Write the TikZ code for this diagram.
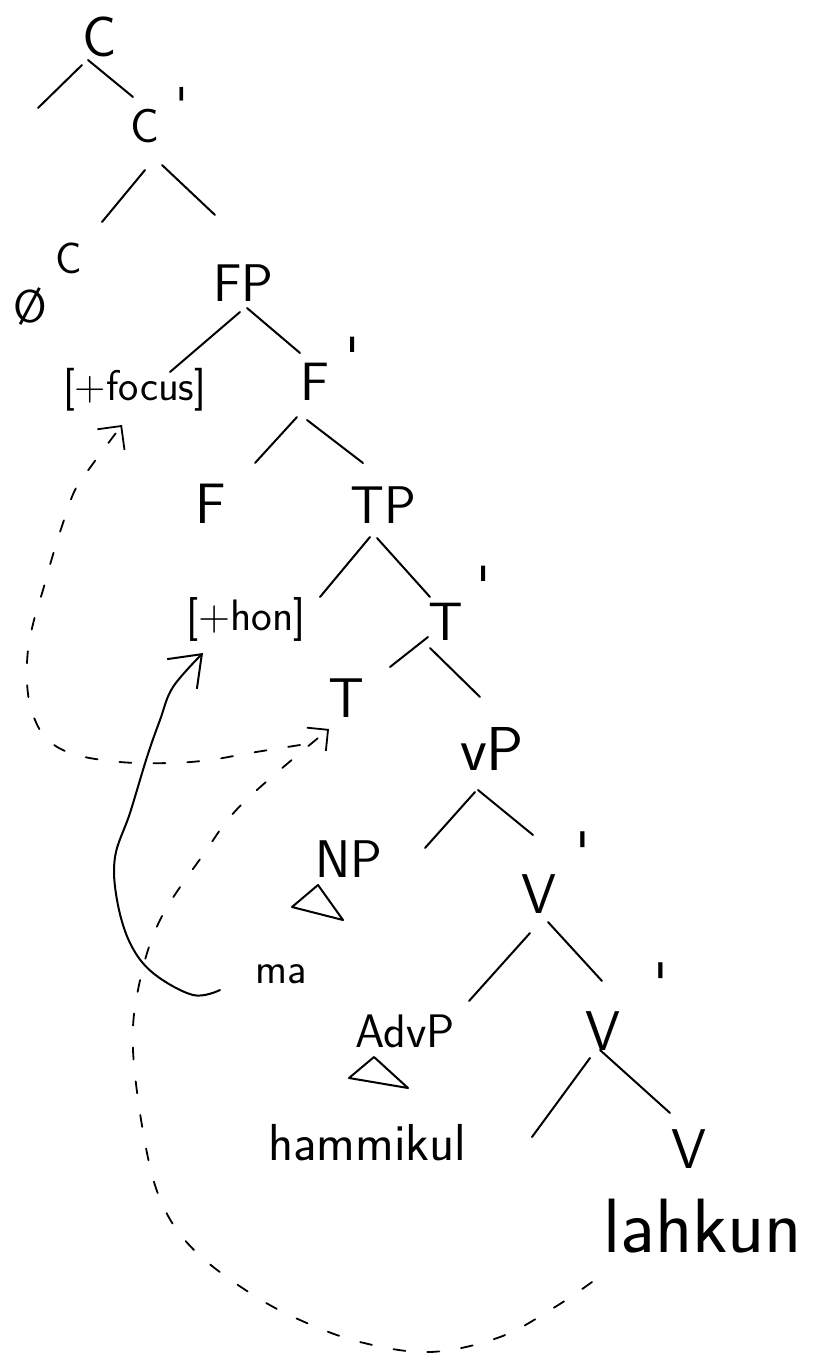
\documentclass[tikz,border=0pt]{standalone}
\usetikzlibrary{arrows.meta}
\newcommand\fsz[1]{\fontsize{#1}{#1}\selectfont}
\newcommand\pr[2]{\hspace{#1}\raisebox{#2}{\textquotesingle}}
\tikzset{
  lab/.style={anchor=base west, inner sep=0pt, font=\sffamily},
  br/.style={line width=2pt, line cap=round},
  hand/.style={line width=2pt, line cap=round},
  mv/.style={line width=1.8pt, dash pattern=on 12pt off 22pt, line cap=round},
}
\begin{document}
\begin{tikzpicture}[x=1pt,y=-1pt]
\fill[white] (0,0) rectangle (817,1364);
\useasboundingbox (0,0) rectangle (817,1364);

% labels
\node[lab, font=\sffamily\fsz{57}] (c0) at (82,57) {C};
\node[lab, font=\sffamily\fsz{48}] (c1) at (130,143) {C\pr{0.35em}{0.45em}};
\node[lab, font=\sffamily\fsz{44}] (ch) at (55,273) {C};
\node[lab, font=\sffamily\fsz{46}] (emp) at (13,322) {\O};
\node[lab, font=\sffamily\fsz{53}] (fp) at (213,301) {FP};
\node[lab, font=\sffamily\fsz{43}] (foc) at (63,400) {[+focus]};
\node[lab, font=\sffamily\fsz{54}] (f1) at (300,400) {F\pr{0.3em}{0.45em}};
\node[lab, font=\sffamily\fsz{57}] (fh) at (195,523) {F};
\node[lab, font=\sffamily\fsz{53}] (tp) at (350,523) {TP};
\node[lab, font=\sffamily\fsz{44}] (hon) at (186,630) {[+hon]};
\node[lab, font=\sffamily\fsz{54}] (t1) at (428,640) {T\pr{0.25em}{0.65em}};
\node[lab, font=\sffamily\fsz{56}] (th) at (328,717) {T};
\node[lab, font=\sffamily\fsz{62}] (vp) at (460,770) {vP};
\node[lab, font=\sffamily\fsz{53}] (np) at (315,877) {NP};
\node[lab, font=\sffamily\fsz{43}] (ma) at (255,983) {ma};
\node[lab, font=\sffamily\fsz{56}] (v1) at (521,913) {V\pr{0.35em}{0.75em}};
\node[lab, font=\sffamily\fsz{47}] (adv) at (355,1047) {AdvP};
\node[lab, font=\sffamily\fsz{56}] (v2) at (585,1050) {V\pr{0.6em}{0.85em}};
\node[lab, font=\sffamily\fsz{52}] (ham) at (268,1160) {hammikul};
\node[lab, font=\sffamily\fsz{56}] (vh) at (671,1168) {V};
\node[lab, font=\sffamily\fsz{77}] (lah) at (603,1252) {lahkun};

% free ends
\coordinate (cs) at (38,108);
\coordinate (vs) at (532,1137);

% branches
\draw[br] ([shift={(0,8)}]c0.base west) -- (cs);
\draw[br] ([shift={(6,3)}]c0.base west) -- ([shift={(3,-46)}]c1.base west);
\draw[br] ([shift={(15,27)}]c1.base west) -- ([shift={(47,-51)}]ch.base west);
\draw[br] ([shift={(32,22)}]c1.base west) -- ([shift={(2,-86)}]fp.base west);
\draw[br] ([shift={(27,11)}]fp.base west) -- ([shift={(107,-28)}]foc.base west);
\draw[br] ([shift={(34,7)}]fp.base west) -- ([shift={(0,-47)}]f1.base west);
\draw[br] ([shift={(-3,17)}]f1.base west) -- ([shift={(60,-60)}]fh.base west);
\draw[br] ([shift={(7,20)}]f1.base west) -- ([shift={(13,-60)}]tp.base west);
\draw[br] ([shift={(20,14)}]tp.base west) -- ([shift={(134,-33)}]hon.base west);
\draw[br] ([shift={(27,15)}]tp.base west) -- ([shift={(2,-43)}]t1.base west);
\draw[br] ([shift={(0,-3)}]t1.base west) -- ([shift={(62,-50)}]th.base west);
\draw[br] ([shift={(2,8)}]t1.base west) -- ([shift={(20,-73)}]vp.base west);
\draw[br] ([shift={(15,22)}]vp.base west) -- ([shift={(110,-29)}]np.base west);
\draw[br] ([shift={(18,20)}]vp.base west) -- ([shift={(12,-78)}]v1.base west);
\draw[br] ([shift={(9,20)}]v1.base west) -- ([shift={(114,-46)}]adv.base west);
\draw[br] ([shift={(27,9)}]v1.base west) -- ([shift={(17,-69)}]v2.base west);
\draw[br] ([shift={(5,8)}]v2.base west) -- (vs);
\draw[br] ([shift={(15,0)}]v2.base west) -- ([shift={(-1,-55)}]vh.base west);

% triangles
\draw[br, line join=round] ([shift={(3,8)}]np.base west) -- ++(-26,22) -- ++(51,13) -- cycle;
\draw[br, line join=round] ([shift={(19,10)}]adv.base west) -- ++(-25,21) -- ++(59,10) -- cycle;

% movement arrows
\coordinate (a1s) at ([shift={(-35,7)}]ma.base west);
\coordinate (a1e) at ([shift={(17,23)}]hon.base west);
\draw[hand, -{Straight Barb[length=28pt,width=42pt]}] plot[smooth, tension=0.6] coordinates {(a1s) (193,995) (153,973) (130,943) (117,900) (115,857) (130,813) (147,757) (160,720) (173,687) (a1e)};

\coordinate (a2s) at ([shift={(-11,30)}]lah.base west);
\coordinate (a2e) at ([shift={(1,12)}]th.base west);
\draw[mv, -{Straight Barb[length=15pt,width=30pt]}] plot[smooth, tension=0.6] coordinates {(a2s) (555,1307) (500,1337) (430,1352) (360,1342) (300,1320) (250,1293) (196,1252) (164,1208) (146,1148) (133,1050) (139,985) (160,920) (203,855) (243,803) (a2e)};

\coordinate (a3s) at ([shift={(-28,28)}]th.base west);
\coordinate (a3e) at ([shift={(59,25)}]foc.base west);
\draw[mv, -{Straight Barb[length=17pt,width=34pt]}] plot[smooth, tension=0.6] coordinates {(a3s) (250,753) (210,760) (170,763) (120,762) (73,754) (46,738) (32,712) (27,683) (28,650) (34,620) (43,590) (52,558) (63,523) (75,490) (92,465) (a3e)};
\end{tikzpicture}
\end{document}
